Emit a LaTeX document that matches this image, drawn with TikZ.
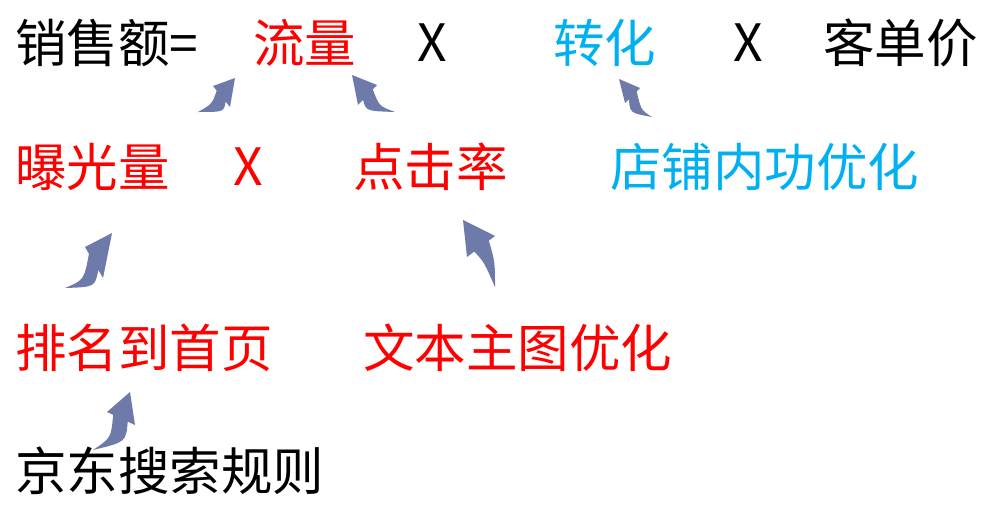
\documentclass[tikz,border=0pt]{standalone}
\usepackage{fontspec}
\setmainfont{Noto Sans CJK SC}
\usetikzlibrary{calc}
\definecolor{cred}{HTML}{FF0000}
\definecolor{cblue}{HTML}{00B0F0}
\definecolor{carr}{HTML}{6E7AAA}
\tikzset{
  lbl/.style={anchor=west,inner sep=0pt,font=\fontsize{51.5}{62}\selectfont},
  xlbl/.style={anchor=center,inner sep=0pt,font=\fontsize{51.5}{62}\selectfont},
  arr/.style={fill=carr}
}
\newcommand\curvarr[6]{%
  \fill[arr] (#1) .. controls (#5) .. ($(#2)!0.22!(#4)$) -- (#2) -- (#3) -- (#4)
    -- ($(#2)!0.74!(#4)$) .. controls (#6) .. (#1) -- cycle;}
\begin{document}
\begin{tikzpicture}[x=1pt,y=-1pt]
\useasboundingbox (0,0) rectangle (1000,511);
% row 1
\node[lbl] (sales) at (15,43) {销售额=};
\node[lbl,text=cred] (ll) at (253,43) {流量};
\node[xlbl] (x1) at (432,43) {X};
\node[lbl,text=cblue] (zh) at (553,43) {转化};
\node[xlbl] (x2) at (748,43) {X};
\node[lbl] (kdj) at (823,43) {客单价};
% row 2
\node[lbl,text=cred] (bgl) at (15,167) {曝光量};
\node[xlbl,text=cred] (x3) at (248,167) {X};
\node[lbl,text=cred] (djl) at (353,167) {点击率};
\node[lbl,text=cblue] (dp) at (610,167) {店铺内功优化};
% row 3
\node[lbl,text=cred] (pm) at (15,348) {排名到首页};
\node[lbl,text=cred] (wb) at (363,348) {文本主图优化};
% row 4
\node[lbl] (jd) at (15,471) {京东搜索规则};
% arrows
\curvarr{198,112}{213,86}{235,78}{230,107}{212,104}{224,112}
\curvarr{395,112}{377,85}{352,75}{358,105}{379,106}{366,111}
\curvarr{652,117}{640,88}{619,79}{625,103}{641,110}{630,113}
\curvarr{65,288}{85,247}{112,233}{103,278}{84,280}{95,287}
\curvarr{495,287}{495,236}{463,220}{467,257}{495,262}{484,262}
\curvarr{93,450}{107,412}{130,392}{135,425}{111,438}{126,442}
\end{tikzpicture}
\end{document}
